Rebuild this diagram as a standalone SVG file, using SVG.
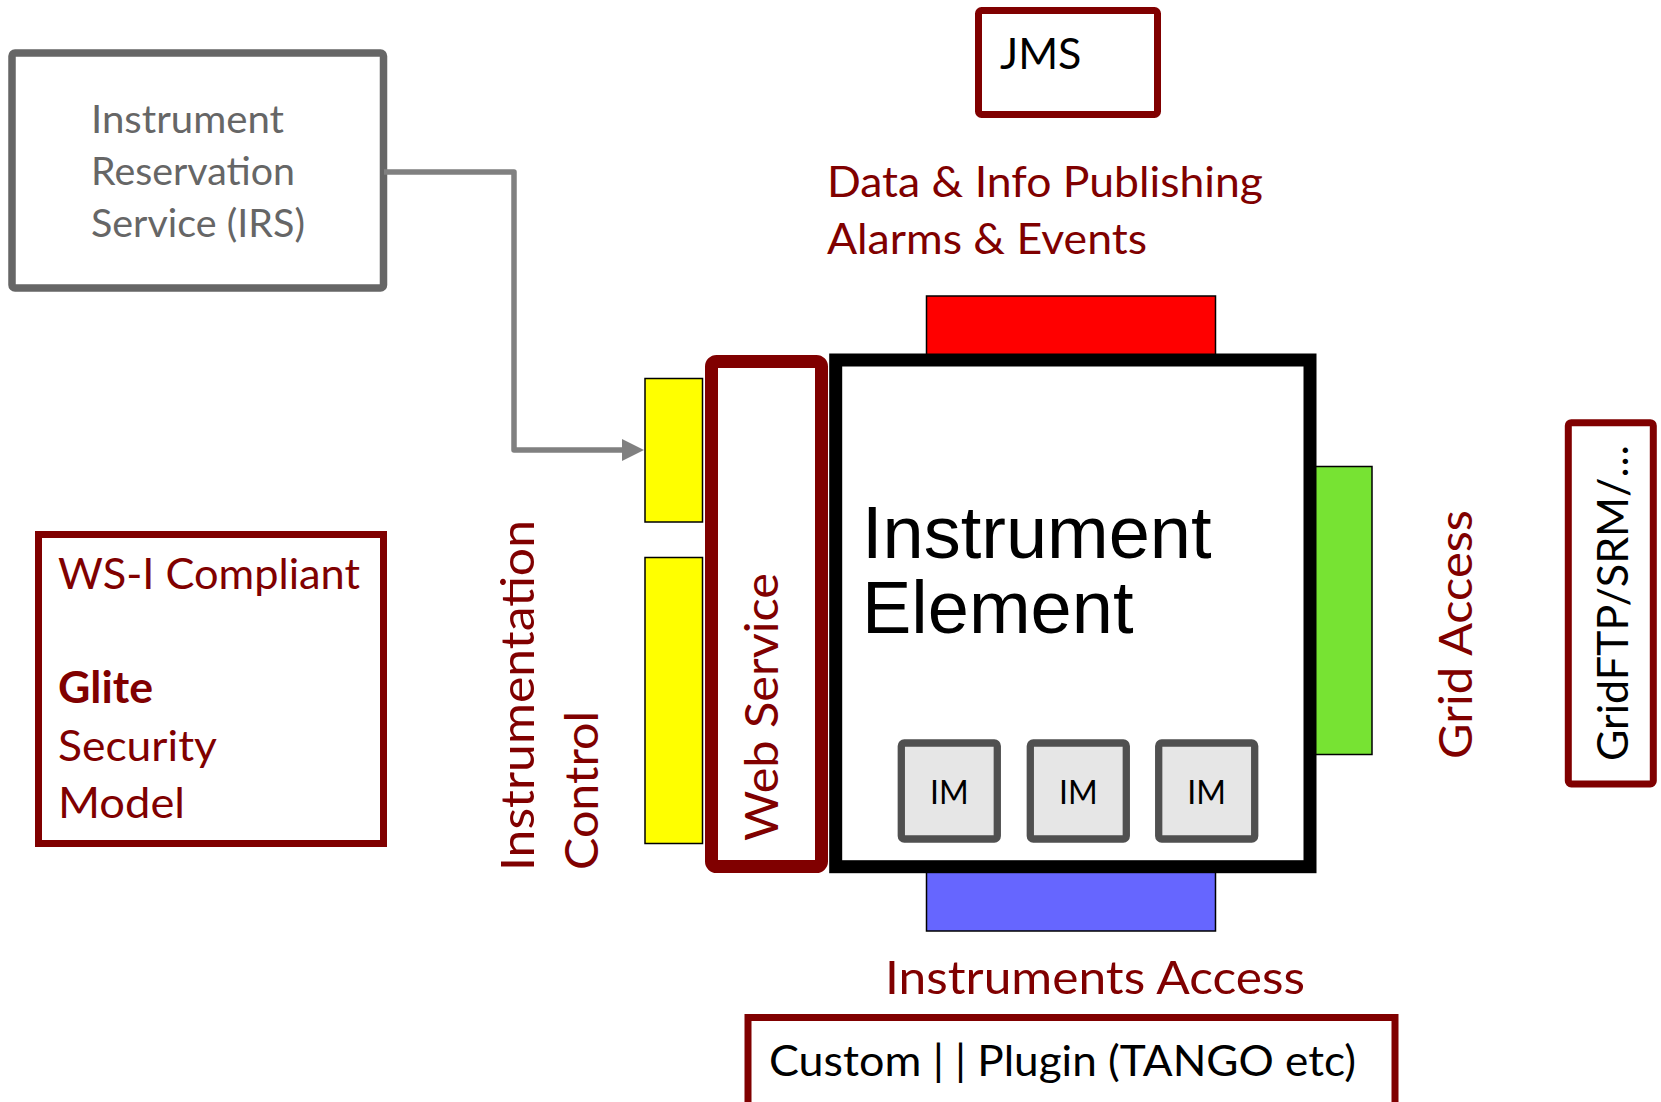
<svg xmlns="http://www.w3.org/2000/svg" width="1661" height="1102" viewBox="0 0 1661 1102">
<style>
.cal{font-family:Lato,"Open Sans","Liberation Sans",sans-serif}
.red{fill:#800000}
.grey{fill:#666666}
.blk{fill:#000000}
.box{fill:#ffffff;stroke:#800000}
.pad{stroke:#000000;stroke-width:1.5}
</style>
<defs>
<marker id="arr" markerUnits="userSpaceOnUse" markerWidth="24" markerHeight="24" refX="1" refY="11" orient="auto">
<path d="M0,0 L22,11 L0,22 Z" fill="#808080"/>
</marker>
</defs>

<g id="irs">
<rect x="12" y="53" width="371.5" height="235" rx="3" fill="#ffffff" stroke="#666666" stroke-width="7.5"/>
<text class="cal grey" font-size="38" x="91" y="133" textLength="193" lengthAdjust="spacingAndGlyphs">Instrument</text>
<text class="cal grey" font-size="38" x="91" y="185" textLength="204" lengthAdjust="spacingAndGlyphs">Reservation</text>
<text class="cal grey" font-size="38" x="91" y="237" textLength="214" lengthAdjust="spacingAndGlyphs">Service (IRS)</text>
</g>

<g id="connectors">
<path d="M384,172 L514,172 L514,450 L623,450" fill="none" stroke="#808080" stroke-width="5.5" stroke-linejoin="round" marker-end="url(#arr)"/>
</g>

<g id="jms">
<rect x="978.5" y="10.5" width="179" height="104" rx="3" class="box" stroke-width="7"/>
<text class="cal blk" font-size="43" x="1000" y="69">JMS</text>
</g>

<g id="publishing-label">
<text class="cal red" font-size="43" x="827" y="197" textLength="436" lengthAdjust="spacingAndGlyphs">Data &amp; Info Publishing</text>
<text class="cal red" font-size="43" x="827" y="254" textLength="320" lengthAdjust="spacingAndGlyphs">Alarms &amp; Events</text>
</g>

<g id="wsi">
<rect x="38.5" y="534.5" width="345" height="309" class="box" stroke-width="7"/>
<text class="cal red" font-size="43" x="58" y="589" textLength="302" lengthAdjust="spacingAndGlyphs">WS-I Compliant</text>
<text class="cal red" font-size="43" font-weight="bold" x="58" y="703" textLength="95" lengthAdjust="spacingAndGlyphs">Glite</text>
<text class="cal red" font-size="43" x="58" y="761" textLength="159" lengthAdjust="spacingAndGlyphs">Security</text>
<text class="cal red" font-size="43" x="58" y="818" textLength="127" lengthAdjust="spacingAndGlyphs">Model</text>
</g>

<g id="instrumentation-control">
<text class="cal red" font-size="47" transform="translate(533.5,871) rotate(-90)" textLength="351" lengthAdjust="spacingAndGlyphs">Instrumentation</text>
<text class="cal red" font-size="47" transform="translate(597.5,870) rotate(-90)" textLength="159" lengthAdjust="spacingAndGlyphs">Control</text>
</g>

<g id="ports">
<rect x="926.5" y="296" width="289" height="70" fill="#ff0000" class="pad"/>
<rect x="926.5" y="860" width="289" height="71" fill="#6666ff" class="pad"/>
<rect x="1305" y="466.5" width="67" height="288" fill="#77e333" class="pad"/>
<rect x="645" y="378.5" width="57.5" height="143.5" fill="#ffff00" class="pad"/>
<rect x="645" y="557.5" width="57.5" height="286" fill="#ffff00" class="pad"/>
</g>

<g id="instrument-element">
<rect x="835.7" y="360" width="474.3" height="506.7" fill="#ffffff" stroke="#000000" stroke-width="13"/>
<text font-family="'Liberation Sans',Arial,sans-serif" font-size="74" class="blk" x="862" y="558">Instrument</text>
<text font-family="'Liberation Sans',Arial,sans-serif" font-size="74" class="blk" x="862" y="633">Element</text>
</g>

<g id="im1">
<rect x="901.3" y="743" width="96" height="96" rx="3" fill="#e6e6e6" stroke="#505050" stroke-width="7.3"/>
<text class="cal blk" font-size="32" text-anchor="middle" x="949.3" y="804">IM</text>
</g>
<g id="im2">
<rect x="1030.3" y="743" width="96" height="96" rx="3" fill="#e6e6e6" stroke="#505050" stroke-width="7.3"/>
<text class="cal blk" font-size="32" text-anchor="middle" x="1078.3" y="804">IM</text>
</g>
<g id="im3">
<rect x="1158.7" y="743" width="96" height="96" rx="3" fill="#e6e6e6" stroke="#505050" stroke-width="7.3"/>
<text class="cal blk" font-size="32" text-anchor="middle" x="1206.7" y="804">IM</text>
</g>

<g id="web-service">
<rect x="711.5" y="361.5" width="110" height="505" rx="5" class="box" stroke-width="13"/>
<text class="cal red" font-size="47" transform="translate(778.3,841) rotate(-90)" textLength="268" lengthAdjust="spacingAndGlyphs">Web Service</text>
</g>

<g id="grid-access-label">
<text class="cal red" font-size="47" transform="translate(1471.7,759) rotate(-90)" textLength="249" lengthAdjust="spacingAndGlyphs">Grid Access</text>
</g>

<g id="gridftp">
<rect x="1568.3" y="422.7" width="85" height="361.3" rx="3" class="box" stroke-width="7"/>
<text class="cal blk" font-size="43" transform="translate(1628.3,761) rotate(-90)">GridFTP/SRM/…</text>
</g>

<g id="instruments-access-label">
<text class="cal red" font-size="47" x="885" y="994" textLength="420" lengthAdjust="spacingAndGlyphs">Instruments Access</text>
</g>

<g id="custom">
<rect x="748" y="1017.5" width="647" height="120" class="box" stroke-width="7"/>
<text class="cal blk" font-size="43" y="1076"><tspan x="769" textLength="175" lengthAdjust="spacingAndGlyphs">Custom |</tspan><tspan x="955" textLength="401" lengthAdjust="spacingAndGlyphs">| Plugin (TANGO etc)</tspan></text>
</g>
</svg>
